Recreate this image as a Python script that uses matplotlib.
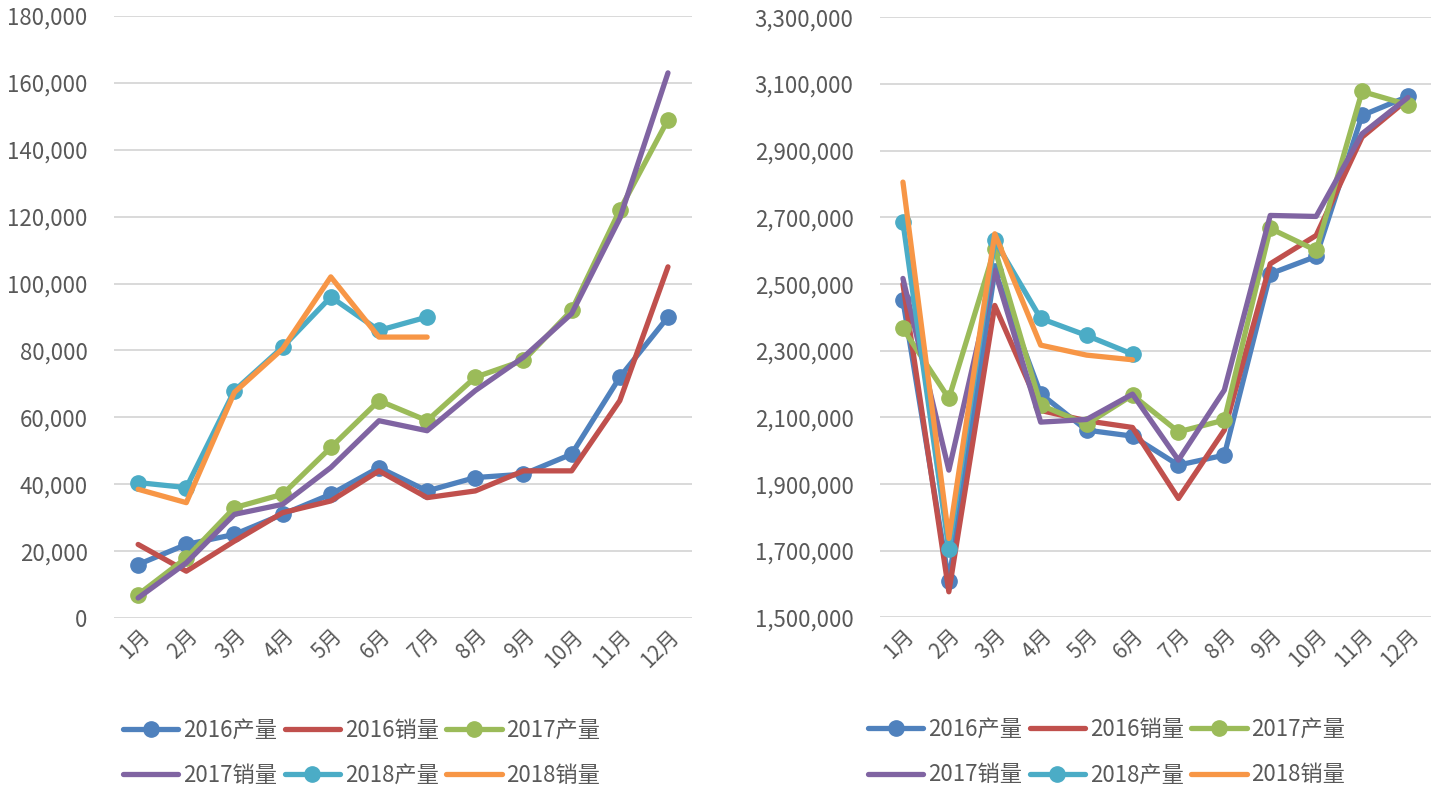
import matplotlib.pyplot as plt
from matplotlib.ticker import FuncFormatter

plt.rcParams['font.family'] = ['Noto Sans CJK SC', 'DejaVu Sans']
plt.rcParams['font.size'] = 16

# 数据
months = ['1月', '2月', '3月', '4月', '5月', '6月', '7月', '8月', '9月', '10月', '11月', '12月']
series_names = ['2016产量', '2016销量', '2017产量', '2017销量', '2018产量', '2018销量']

# 左图
left_2016_prod = [16000, 22000, 25000, 31000, 37000, 45000, 38000, 42000, 43000, 49000, 72000, 90000]
left_2016_sales = [22000, 14000, 23000, 31500, 35000, 44000, 36000, 38000, 44000, 44000, 65000, 105000]
left_2017_prod = [7000, 18000, 33000, 37000, 51000, 65000, 59000, 72000, 77000, 92000, 122000, 149000]
left_2017_sales = [6000, 16500, 31000, 34000, 45000, 59000, 56000, 68000, 78000, 91000, 119500, 163000]
left_2018_prod = [40500, 39000, 68000, 81000, 96000, 86000, 90000]
left_2018_sales = [38500, 34500, 67500, 80500, 102000, 84000, 84000]

# 右图
right_2016_prod = [2451000, 1609000, 2540000, 2171000, 2062000, 2044000, 1957000, 1987000, 2531000, 2583000, 3006000, 3063000]
right_2016_sales = [2500000, 1577000, 2436000, 2121000, 2090000, 2070000, 1857000, 2062000, 2561000, 2646000, 2941000, 3055000]
right_2017_prod = [2367000, 2157000, 2606000, 2137000, 2080000, 2167000, 2057000, 2092000, 2667000, 2601000, 3078000, 3038000]
right_2017_sales = [2517000, 1942000, 2541000, 2086000, 2094000, 2170000, 1972000, 2182000, 2706000, 2703000, 2951000, 3060000]
right_2018_prod = [2686000, 1704000, 2631000, 2397000, 2346000, 2290000]
right_2018_sales = [2806000, 1737000, 2651000, 2317000, 2287000, 2273000]

colors = ['#4F81BD', '#C0504D', '#9BBB59', '#8064A2', '#4BACC6', '#F79646']
markers = ['o', None, 'o', None, 'o', None]
text_color = '#595959'

fig = plt.figure(figsize=(14.4, 7.89), dpi=100)
ax1 = fig.add_axes([0.0792, 0.2167, 0.4014, 0.763])
ax2 = fig.add_axes([0.6111, 0.2174, 0.3826, 0.7605])


def draw(ax, data, ylim, ystep, legend_x):
    handles = []
    for vals, c, m, name in zip(data, colors, markers, series_names):
        h, = ax.plot(range(len(vals)), vals, color=c, linewidth=3.8, marker=m,
                     markersize=11, label=name, solid_joinstyle='round',
                     solid_capstyle='round', clip_on=False)
        handles.append(h)
    ax.set_xlim(-0.5, 11.5)
    ax.set_ylim(*ylim)
    ax.set_yticks(range(ylim[0], ylim[1] + 1, ystep))
    ax.yaxis.set_major_formatter(FuncFormatter(lambda v, p: f'{int(v):,}'))
    ax.set_xticks(range(12))
    ax.set_xticklabels(months, rotation=45, ha='right', va='top', rotation_mode='anchor')
    ax.grid(axis='y', color='#D9D9D9', linewidth=1.4)
    ax.set_axisbelow(True)
    for s in ax.spines.values():
        s.set_visible(False)
    ax.tick_params(axis='y', length=0, pad=19, colors=text_color, labelsize=16)
    ax.tick_params(axis='x', length=0, pad=5, colors=text_color, labelsize=15)
    order = [0, 3, 1, 4, 2, 5]
    ax.legend([handles[i] for i in order], [series_names[i] for i in order],
              ncol=3, loc='upper left', bbox_to_anchor=(legend_x, -0.153),
              frameon=False, handlelength=2.5, handletextpad=0.2,
              columnspacing=0.35, labelspacing=1.0, borderaxespad=0,
              labelcolor=text_color, fontsize=16)


draw(ax1, [left_2016_prod, left_2016_sales, left_2017_prod, left_2017_sales,
           left_2018_prod, left_2018_sales], (0, 180000), 20000, 0.0)
draw(ax2, [right_2016_prod, right_2016_sales, right_2017_prod, right_2017_sales,
           right_2018_prod, right_2018_sales], (1500000, 3300000), 200000, -0.038)

plt.savefig('out.png', dpi=100)
plt.close()
